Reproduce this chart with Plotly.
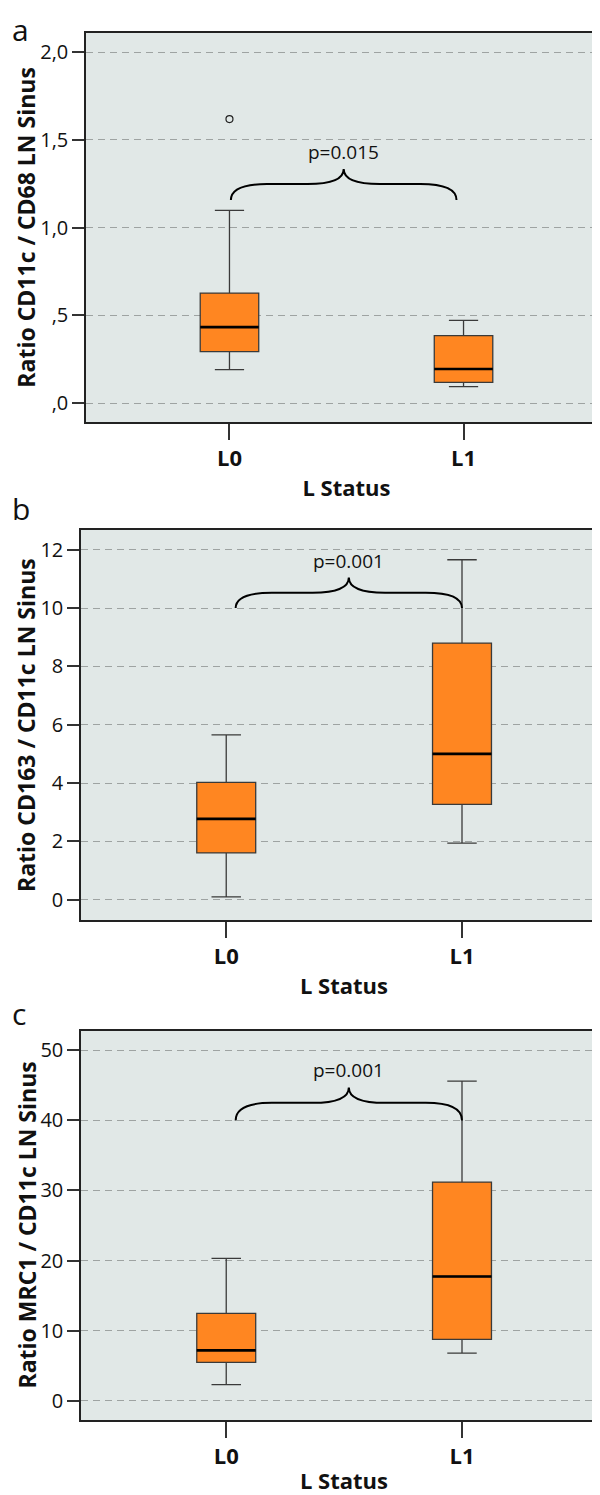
import plotly.graph_objects as go

# ---------------- data ----------------
groups = ["L0", "L1"]
xpos = [0, 1]

# panel a : Ratio CD11c / CD68 LN Sinus
a_low = [0.19, 0.093]
a_q1 = [0.293, 0.118]
a_med = [0.433, 0.194]
a_q3 = [0.627, 0.384]
a_high = [1.099, 0.471]
a_out_x = [0]
a_out_y = [1.619]
a_tickvals = [0, 0.5, 1.0, 1.5, 2.0]
a_ticktext = [",0", ",5", "1,0", "1,5", "2,0"]

# panel b : Ratio CD163 / CD11c LN Sinus
b_low = [0.09, 1.94]
b_q1 = [1.60, 3.27]
b_med = [2.77, 5.00]
b_q3 = [4.02, 8.80]
b_high = [5.65, 11.66]
b_tickvals = [0, 2, 4, 6, 8, 10, 12]

# panel c : Ratio MRC1 / CD11c LN Sinus
c_low = [2.28, 6.79]
c_q1 = [5.47, 8.75]
c_med = [7.18, 17.72]
c_q3 = [12.45, 31.2]
c_high = [20.3, 45.6]
c_tickvals = [0, 10, 20, 30, 40, 50]

panel_letters = ["a", "b", "c"]
y_titles = ["Ratio CD11c / CD68 LN Sinus", "Ratio CD163 / CD11c LN Sinus", "Ratio MRC1 / CD11c LN Sinus"]
x_title = "L Status"
p_labels = ["p=0.015", "p=0.001", "p=0.001"]
brace_x = [[0.006, 0.97], [0.04, 1.0], [0.04, 1.0]]
brace_y = [[1.157, 1.249, 1.335], [10.0, 10.53, 11.05], [40.0, 42.5, 44.7]]

# ---------------- style ----------------
FONT = "Open Sans"
ORANGE = "#FF8621"
BG = "#E1E8E7"
BOXW = 0.25
W, H = 600, 1495

x_domains = [[78 / W, 599 / W], [73 / W, 599 / W], [73 / W, 599 / W]]
y_px = [[25, 414.3], [522, 912], [1022.7, 1412.3]]
y_domains = [[1 - b / H, 1 - t / H] for t, b in y_px]
x_ranges = [[-0.613, 1.613], [-0.616, 1.615], [-0.616, 1.615]]
y_ranges = [[-0.11, 2.11], [-0.70, 12.68], [-2.8, 52.8]]
letter_y = [21, 500, 1005]
x_title_standoff = [9, 9, 4]

stats = [
    (a_low, a_q1, a_med, a_q3, a_high),
    (b_low, b_q1, b_med, b_q3, b_high),
    (c_low, c_q1, c_med, c_q3, c_high),
]
tickvals = [a_tickvals, b_tickvals, c_tickvals]
ticktexts = [a_ticktext, [str(v) for v in b_tickvals], [str(v) for v in c_tickvals]]

fig = go.Figure()
shapes = []
annotations = []

for i in range(3):
    xa = "x" if i == 0 else f"x{i+1}"
    ya = "y" if i == 0 else f"y{i+1}"
    low, q1, med, q3, high = stats[i]
    fig.add_trace(go.Box(
        x=xpos, q1=q1, median=med, q3=q3, lowerfence=low, upperfence=high,
        width=BOXW, whiskerwidth=0.5, fillcolor=ORANGE,
        line=dict(color="#3a3a3a", width=1.3),
        xaxis=xa, yaxis=ya, showlegend=False, hoverinfo="skip",
    ))
    # thicker median line on top
    mx, my = [], []
    for x, m in zip(xpos, med):
        mx += [x - BOXW / 2, x + BOXW / 2, None]
        my += [m, m, None]
    fig.add_trace(go.Scatter(x=mx, y=my, mode="lines",
                             line=dict(color="#000000", width=2.6),
                             xaxis=xa, yaxis=ya, showlegend=False, hoverinfo="skip"))
    if i == 0:
        fig.add_trace(go.Scatter(x=a_out_x, y=a_out_y, mode="markers",
                                 marker=dict(symbol="circle-open", size=7, color="#222",
                                             line=dict(width=1.2)),
                                 xaxis=xa, yaxis=ya, showlegend=False, hoverinfo="skip"))

    # curly brace
    x0, x1 = brace_x[i]
    y0, y1, y2 = brace_y[i]
    xm = (x0 + x1) / 2
    d = 0.16 * (x1 - x0)
    path = (f"M {x0},{y0} Q {x0},{y1} {x0 + d},{y1} L {xm - d},{y1} "
            f"Q {xm},{y1} {xm},{y2} Q {xm},{y1} {xm + d},{y1} "
            f"L {x1 - d},{y1} Q {x1},{y1} {x1},{y0}")
    shapes.append(dict(type="path", path=path, xref=xa, yref=ya,
                       line=dict(color="#000", width=2)))
    annotations.append(dict(text=p_labels[i], x=xm, y=y2, xref=xa, yref=ya,
                            xanchor="center", yanchor="bottom", yshift=2,
                            showarrow=False, font=dict(family=FONT, size=19, color="#111")))
    annotations.append(dict(text=panel_letters[i], x=2 / W, y=1 - letter_y[i] / H,
                            xref="paper", yref="paper", xanchor="left", yanchor="middle",
                            showarrow=False, font=dict(family=FONT, size=30, color="#111")))
    # y-axis title as rotated text, centred on the plot height
    annotations.append(dict(text=f"<b>{y_titles[i]}</b>", textangle=-90,
                            x=0, y=sum(y_domains[i]) / 2,
                            xref="paper", yref="paper", xanchor="left", yanchor="middle",
                            showarrow=False, font=dict(family=FONT, size=23, color="#111")))

    axis_common = dict(showline=True, mirror=True, linecolor="#222", linewidth=1.5,
                       ticks="outside", tickcolor="#333", tickwidth=1.5)
    fig.update_layout(**{
        ("xaxis" if i == 0 else f"xaxis{i+1}"): dict(
            domain=x_domains[i], anchor=ya, range=x_ranges[i],
            tickvals=xpos, ticktext=[f"<b>{g}</b>" for g in groups],
            ticklen=16, showgrid=False, zeroline=False,
            tickfont=dict(family=FONT, size=22, color="#111"),
            title=dict(text=f"<b>{x_title}</b>", standoff=x_title_standoff[i],
                       font=dict(family=FONT, size=22, color="#111")),
            **axis_common),
        ("yaxis" if i == 0 else f"yaxis{i+1}"): dict(
            domain=y_domains[i], anchor=xa, range=y_ranges[i],
            tickvals=tickvals[i], ticktext=ticktexts[i], ticklen=12,
            showgrid=True, gridcolor="#9EA3A2", gridwidth=1, griddash="7px,5px",
            zeroline=False,
            tickfont=dict(family=FONT, size=20, color="#111"),
            **axis_common),
    })

fig.update_layout(
    width=W, height=H, margin=dict(l=0, r=0, t=0, b=0),
    paper_bgcolor="white", plot_bgcolor=BG,
    shapes=shapes, annotations=annotations,
    font=dict(family=FONT),
)

fig.write_html("out.html")
